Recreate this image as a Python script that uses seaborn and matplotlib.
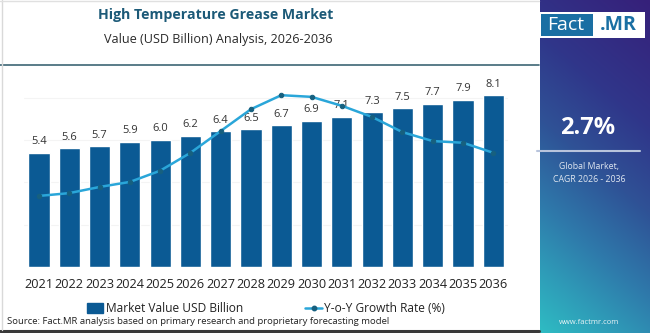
import numpy as np
import pandas as pd
import matplotlib
matplotlib.use("Agg")
import matplotlib.pyplot as plt
from matplotlib.colors import to_rgb
from matplotlib.patches import Rectangle, Patch
from matplotlib.lines import Line2D
import seaborn as sns

# ---- data ----
years = ["2021", "2022", "2023", "2024", "2025", "2026", "2027", "2028",
         "2029", "2030", "2031", "2032", "2033", "2034", "2035", "2036"]
market_value = [5.4, 5.6, 5.7, 5.9, 6.0, 6.2, 6.4, 6.5,
                6.7, 6.9, 7.1, 7.3, 7.5, 7.7, 7.9, 8.1]
yoy_growth = [2.20, 2.25, 2.36, 2.45, 2.65, 2.97, 3.36, 3.75,
              4.00, 3.97, 3.81, 3.61, 3.34, 3.18, 3.15, 2.97]
cagr_text = "2.7%"

title = "High Temperature Grease Market"
subtitle = "Value (USD Billion) Analysis, 2026-2036"
source = "Source: Fact.MR analysis based on primary research and proprietary forecasting model"

BAR = "#0b5a94"
LINE = "#2aa6d9"
MARK = "#17607f"
TITLE_C = "#1c5a78"

sns.set_theme(style="white")
plt.rcParams["font.family"] = ["Open Sans", "DejaVu Sans"]

W, H = 650, 333
fig = plt.figure(figsize=(W / 100, H / 100), dpi=100)
fig.patch.set_facecolor("white")

def fx(px):
    return px / W

def fy(py):
    return 1 - py / H

df = pd.DataFrame({"year": years, "value": market_value, "growth": yoy_growth})

# ---- main axes ----
ax = fig.add_axes([fx(23.8), fy(267), fx(508.5 - 23.8), (267 - 70) / H])
sns.barplot(data=df, x="year", y="value", color=BAR, width=0.7,
            saturation=1, ax=ax)
ax.set_xlim(-0.5, len(years) - 0.5)
ax.set_ylim(0, 9.3)
ax.set_xlabel("")
ax.set_ylabel("")
ax.set_yticks([2, 4, 6, 8])
ax.set_yticklabels([])
ax.tick_params(axis="y", length=0)
ax.tick_params(axis="x", length=0, pad=8, labelsize=9.2, labelcolor="#222222")
ax.grid(axis="y", color="#f4f4f4", linewidth=0.8)
ax.set_axisbelow(True)
for s in ax.spines.values():
    s.set_visible(False)

for i, v in enumerate(market_value):
    ax.annotate(f"{v:.1f}", (i, v), xytext=(0, 4), textcoords="offset points",
                ha="center", va="bottom", fontsize=8, color="#333333")

# growth rate on a secondary scale
ax2 = ax.twinx()
sns.lineplot(x=np.arange(len(years)), y=df["growth"], ax=ax2, color=LINE,
             linewidth=1.8, marker="o", markersize=3.2,
             markerfacecolor=MARK, markeredgecolor=MARK)
ax2.set_ylim(0.93, 4.45)
ax2.set_yticks([])
ax2.set_ylabel("")
for s in ax2.spines.values():
    s.set_visible(False)

# ---- titles ----
fig.text(fx(216), fy(15), title, ha="center", va="center", fontsize=10.2,
         fontweight="bold", color=TITLE_C)
fig.text(fx(218), fy(40), subtitle, ha="center", va="center", fontsize=9.1,
         color="#2a2a2a")

# frame lines
fig.add_artist(Line2D([0, fx(539)], [fy(65), fy(65)], color="#3d6674", lw=1.2))
fig.add_artist(Line2D([0, fx(539)], [fy(330.5), fy(330.5)], color="#3a3a3a", lw=2.2))
fig.add_artist(Line2D([fx(1.5), fx(1.5)], [fy(330), fy(0)], color="#d9d9d9", lw=1))
fig.add_artist(Line2D([0, fx(539)], [fy(0.5), fy(0.5)], color="#e0e0e0", lw=1))

# ---- legend ----
handles = [Patch(facecolor=BAR, edgecolor=BAR, label="Market Value USD Billion"),
           Line2D([0], [0], color=LINE, lw=1.8, marker="o", markersize=3.2,
                  markerfacecolor=MARK, markeredgecolor=MARK,
                  label="Y-o-Y Growth Rate (%)")]
fig.legend(handles=handles, loc="center", bbox_to_anchor=(fx(266), fy(309)),
           ncol=2, frameon=False, fontsize=8.6, handlelength=1.4,
           handleheight=0.9, handletextpad=0.2, columnspacing=5.2,
           labelcolor="#222222")

fig.text(fx(7), fy(322), source, ha="left", va="center", fontsize=6.8,
         color="#222222")

# ---- side panel: diagonal gradient, purple top-right to teal bottom-left ----
side = fig.add_axes([fx(540), 0, fx(110), 1])
ny, nx = 333, 110
yy, xx = np.mgrid[0:1:complex(ny), 0:1:complex(nx)]   # yy = 0 at the top row
t = np.clip(0.78 * yy + 0.22 * (1 - xx), 0, 1)
stops = [0.0, 0.3, 0.5, 0.7, 0.85, 1.0]
stop_cols = [to_rgb(c) for c in
             ["#36207a", "#30368a", "#2f5296", "#2e7aab", "#2e9cb8", "#2fbcc3"]]
rgb = np.dstack([np.interp(t, stops, [c[k] for c in stop_cols]) for k in range(3)])
side.imshow(rgb, aspect="auto", origin="upper", extent=[0, 1, 1, 0])
side.set_xlim(0, 1)
side.set_ylim(1, 0)
side.axis("off")

# logo
fig.add_artist(Rectangle((fx(538), fy(38)), fx(107), 26 / H, facecolor="white",
                         edgecolor="none"))
fig.add_artist(Rectangle((fx(540.5), fy(35.5)), fx(52), 21 / H, facecolor="#1a6fa3",
                         edgecolor="none"))
fig.text(fx(566), fy(25), "Fact", ha="center", va="center", fontsize=14,
         color="white")
fig.text(fx(618), fy(25), ".MR", ha="center", va="center", fontsize=14,
         color="#1a6fa3", fontweight="bold")

fig.text(fx(588), fy(128), cagr_text, ha="center", va="center", fontsize=17,
         fontweight="bold", color="white")
fig.add_artist(Line2D([fx(537), fx(640)], [fy(151), fy(151)], color="#b8c4dc", lw=1.5))
fig.text(fx(589), fy(166), "Global Market,", ha="center", va="center",
         fontsize=6.3, color="#dfe6f0")
fig.text(fx(589), fy(179), "CAGR 2026 - 2036", ha="center", va="center",
         fontsize=6.3, color="#dfe6f0")
fig.text(fx(589), fy(322), "www.factmr.com", ha="center", va="center",
         fontsize=5.5, color="#e8f4f6")

fig.savefig("out.png", dpi=100, facecolor="white")
